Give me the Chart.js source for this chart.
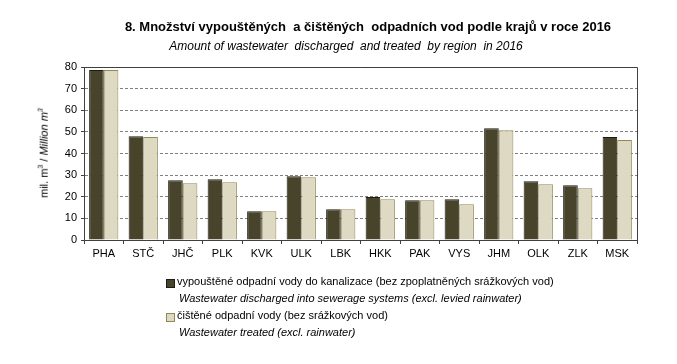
<!DOCTYPE html>
<html>
<head>
<meta charset="utf-8">
<script src="https://cdn.jsdelivr.net/npm/chart.js@4"></script>
<style>
  body { margin: 0; background: #fff; font-family: "Liberation Sans", Arial, sans-serif; }
  #wrap { position: relative; width: 677px; height: 364px; overflow: hidden; }
  #myChart { position: absolute; left: 0; top: 0; }
  .t { position: absolute; white-space: nowrap; color: #000; }
  #title { left: 0; width: 736px; top: 19px; text-align: center; font-weight: bold; font-size: 13px; }
  #subtitle { left: 0; width: 692px; top: 39px; text-align: center; font-style: italic; font-size: 12px; }
  #ytitle { left: 43px; top: 153px; transform: translate(-50%, -50%) rotate(-90deg); font-size: 11px; }
  .lg { position: absolute; font-size: 11px; white-space: nowrap; }
  .sw { position: absolute; width: 7px; height: 7px; }
</style>
</head>
<body>
<div id="wrap">
  <canvas id="myChart" width="677" height="364"></canvas>
  <div class="t" id="title">8. Množství vypouštěných&nbsp; a čištěných&nbsp; odpadních vod podle krajů v roce 2016</div>
  <div class="t" id="subtitle">Amount of wastewater&nbsp; discharged&nbsp; and treated&nbsp; by region&nbsp; in 2016</div>
  <div class="t" id="ytitle">mil. m<sup style="font-size:7px">3</sup> / <i>Million m<sup style="font-size:7px">3</sup></i></div>

  <div class="sw" style="left:166px; top:279px; background:#48432b; border:1px solid #1e1c10;"></div>
  <div class="lg" style="left:177px; top:275px;">vypouštěné odpadní vody do kanalizace (bez zpoplatněných srážkových vod)</div>
  <div class="lg" style="left:179px; top:292px; font-style:italic;">Wastewater discharged into sewerage systems (excl. levied rainwater)</div>
  <div class="sw" style="left:166px; top:313px; background:#ddd9c3; border:1px solid #938953;"></div>
  <div class="lg" style="left:177px; top:309px;">čištěné odpadní vody (bez srážkových vod)</div>
  <div class="lg" style="left:179px; top:326px; font-style:italic;">Wastewater treated (excl. rainwater)</div>
</div>
<script>
document.addEventListener('DOMContentLoaded', function() {
    const ctx = document.getElementById('myChart').getContext('2d');

    const regions = ['PHA', 'STČ', 'JHČ', 'PLK', 'KVK', 'ULK', 'LBK', 'HKK', 'PAK', 'VYS', 'JHM', 'OLK', 'ZLK', 'MSK'];
    const discharged = [78.6, 48.0, 27.6, 28.1, 13.3, 29.5, 14.2, 19.9, 18.4, 18.8, 51.7, 27.2, 25.3, 47.6];
    const treated = [78.6, 47.6, 26.3, 26.7, 13.3, 29.0, 14.2, 18.8, 18.4, 16.5, 50.8, 25.8, 23.9, 46.2];
    const yTicks = [0, 10, 20, 30, 40, 50, 60, 70, 80];

    // solid frame on top and right of the plot area
    const frame = {
        id: 'frame',
        afterDraw(chart) {
            const a = chart.chartArea;
            const c = chart.ctx;
            c.save();
            c.strokeStyle = '#404040';
            c.lineWidth = 1;
            c.beginPath();
            c.moveTo(a.left, a.top + 0.5);
            c.lineTo(a.right + 0.5, a.top + 0.5);
            c.lineTo(a.right + 0.5, a.bottom);
            c.stroke();
            c.restore();
        }
    };

    new Chart(ctx, {
        type: 'bar',
        data: {
            labels: regions,
            datasets: [{
                data: discharged,
                backgroundColor: '#48432b',
                borderColor: '#1e1c10',
                borderWidth: 1,
                barPercentage: 1.0,
                categoryPercentage: 0.74
            }, {
                data: treated,
                backgroundColor: '#ddd9c3',
                borderColor: '#938953',
                borderWidth: 1,
                barPercentage: 1.0,
                categoryPercentage: 0.74
            }]
        },
        options: {
            responsive: false,
            animation: false,
            layout: { padding: { left: 0, top: 67, right: 40, bottom: 104 } },
            plugins: { legend: { display: false }, tooltip: { enabled: false } },
            scales: {
                x: {
                    afterFit: function(s) { s.height = 20; },
                    grid: { drawOnChartArea: false, offset: true, tickLength: 4, color: '#404040' },
                    border: { color: '#404040' },
                    ticks: { color: '#000', font: { family: 'Liberation Sans', size: 11 }, padding: 3 }
                },
                y: {
                    min: 0,
                    max: 80,
                    afterFit: function(s) { s.width = 84; },
                    afterBuildTicks: function(s) { s.ticks = yTicks.map(v => ({ value: v })); },
                    grid: { color: '#808080', tickLength: 3, tickColor: '#404040' },
                    border: { color: '#404040', dash: [3, 2] },
                    ticks: { color: '#000', font: { family: 'Liberation Sans', size: 11 }, padding: 4 }
                }
            }
        },
        plugins: [frame]
    });
});
</script>
</body>
</html>
